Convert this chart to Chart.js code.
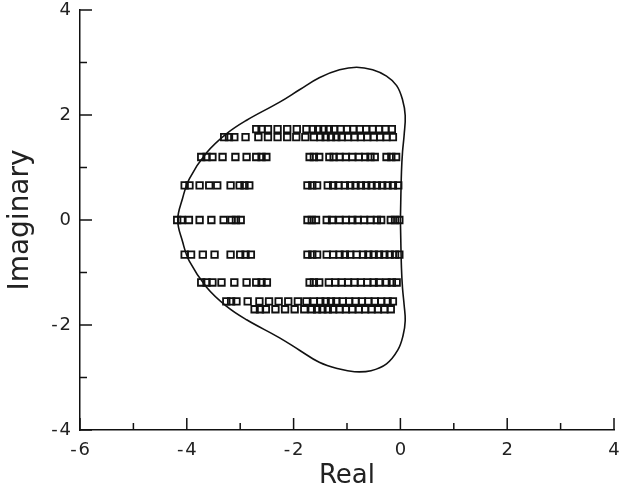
<!DOCTYPE html>
<html><head><meta charset="utf-8">
<script src="https://cdn.jsdelivr.net/npm/chart.js@4/dist/chart.umd.min.js"></script>
<style>html,body{margin:0;padding:0;background:#fff}#wrap{width:621px;height:495px}</style>
</head><body><div id="wrap"><canvas id="c" width="621" height="495"></canvas></div>
<script>
// Axis ticks
const xMajorTicks = [-6, -4, -2, 0, 2, 4];
const xMinorTicks = [-5, -3, -1, 1, 3];
const yMajorTicks = [-4, -2, 0, 2, 4];
const yMinorTicks = [-3, -1, 1, 3];

// Boundary curve (closed)
const curveX = [0.00, 0.02, 0.04, 0.07, 0.09, 0.04, -0.07, -0.26, -0.52, -0.82, -1.14, -1.52, -1.89, -2.27, -2.88, -3.26, -3.63, -3.95, -4.08, -4.17,
                -4.08, -3.95, -3.63, -3.26, -2.88, -2.27, -1.89, -1.52, -1.14, -0.86, -0.55, -0.26, -0.05, 0.05, 0.09, 0.07, 0.04, 0.02, 0.00];
const curveY = [0.00, 0.92, 1.30, 1.62, 1.99, 2.29, 2.56, 2.74, 2.86, 2.91, 2.86, 2.71, 2.48, 2.24, 1.90, 1.64, 1.28, 0.79, 0.41, 0.00,
                -0.41, -0.79, -1.28, -1.64, -1.90, -2.24, -2.48, -2.71, -2.84, -2.89, -2.87, -2.74, -2.48, -2.20, -1.92, -1.62, -1.30, -0.92, 0.00];

// Eigenvalue rows (imaginary part of each row, real parts of its points)
const rowImag = [1.73, 1.58, 1.20, 0.66, 0.00, -0.66, -1.19, -1.55, -1.70];
const rowA = [-2.70,-2.60,-2.48,-2.30,-2.12,-1.94,-1.76,-1.64,-1.54,-1.44,-1.34,-1.24,-1.12,-1.00,-0.88,-0.76,-0.64,-0.52,-0.40,-0.28,-0.16];
const rowB = [-3.30,-3.21,-3.11,-2.90,-2.66,-2.48,-2.30,-2.12,-1.95,-1.78,-1.62,-1.50,-1.40,-1.30,-1.20,-1.10,-0.98,-0.86,-0.74,-0.62,-0.50,-0.38,-0.26,-0.14];
const rowC = [-3.73,-3.63,-3.52,-3.33,-3.09,-2.88,-2.70,-2.60,-2.51,-1.70,-1.62,-1.52,-1.33,-1.25,-1.14,-1.02,-0.90,-0.78,-0.66,-0.56,-0.48,-0.26,-0.17,-0.08];
const rowD = [-4.04,-3.95,-3.76,-3.58,-3.43,-3.18,-3.01,-2.92,-2.83,-1.74,-1.65,-1.56,-1.36,-1.26,-1.16,-1.04,-0.94,-0.84,-0.74,-0.64,-0.54,-0.44,-0.34,-0.24,-0.14,-0.04];
const rowE = [-4.18,-4.10,-3.96,-3.76,-3.54,-3.31,-3.16,-3.08,-2.99,-1.74,-1.66,-1.58,-1.38,-1.28,-1.14,-1.02,-0.90,-0.80,-0.68,-0.56,-0.44,-0.36,-0.18,-0.10,-0.02];
const rowF = [-4.04,-3.92,-3.70,-3.48,-3.18,-3.00,-2.90,-2.80,-1.74,-1.65,-1.56,-1.38,-1.26,-1.14,-1.04,-0.94,-0.82,-0.70,-0.60,-0.50,-0.40,-0.30,-0.20,-0.10,-0.02];
const rowG = [-3.73,-3.63,-3.52,-3.35,-3.11,-2.88,-2.70,-2.60,-2.50,-1.70,-1.62,-1.52,-1.34,-1.22,-1.10,-0.98,-0.86,-0.74,-0.62,-0.50,-0.40,-0.26,-0.16,-0.07];
const rowH = [-3.26,-3.17,-3.07,-2.86,-2.64,-2.46,-2.28,-2.10,-1.92,-1.76,-1.62,-1.50,-1.40,-1.30,-1.20,-1.08,-0.96,-0.84,-0.72,-0.60,-0.48,-0.36,-0.24,-0.14];
const rowI = [-2.73,-2.63,-2.52,-2.34,-2.16,-1.98,-1.80,-1.66,-1.56,-1.46,-1.36,-1.26,-1.14,-1.02,-0.90,-0.78,-0.66,-0.54,-0.42,-0.30,-0.18];
const rowReals = [rowA, rowB, rowC, rowD, rowE, rowF, rowG, rowH, rowI];

const INK = '#111';
const TEXT = '#222';
const pointSets = rowReals.map((xs, i) => ({
  type: 'scatter',
  data: xs.map(v => ({x: v, y: rowImag[i]})),
  pointStyle: 'rect',
  pointRadius: 4.6,
  pointBorderWidth: 1.8,
  pointBackgroundColor: 'rgba(0,0,0,0)',
  pointBorderColor: INK,
  showLine: false
}));

const curveSet = {
  type: 'scatter',
  data: curveX.map((v, i) => ({x: v, y: curveY[i]})),
  showLine: true,
  tension: 0.4,
  borderColor: INK,
  borderWidth: 1.6,
  pointRadius: 0,
  fill: false
};

const inwardTicks = {
  id: 'inwardTicks',
  afterDatasetsDraw(chart) {
    const {ctx, chartArea: {left, bottom}, scales: {x, y}} = chart;
    ctx.save();
    ctx.strokeStyle = INK;
    ctx.lineWidth = 1.5;
    const seg = (x1, y1, x2, y2) => { ctx.beginPath(); ctx.moveTo(x1, y1); ctx.lineTo(x2, y2); ctx.stroke(); };
    xMajorTicks.forEach(v => { const p = x.getPixelForValue(v); seg(p, bottom, p, bottom - 12); });
    xMinorTicks.forEach(v => { const p = x.getPixelForValue(v); seg(p, bottom, p, bottom - 7); });
    yMajorTicks.forEach(v => { const p = y.getPixelForValue(v); seg(left, p, left + 12, p); });
    yMinorTicks.forEach(v => { const p = y.getPixelForValue(v); seg(left, p, left + 7, p); });
    ctx.restore();
  }
};

const fmt = v => (v < 0 ? '-\u200A' + Math.abs(v) : String(v));
const tickFont = { family: 'DejaVu Sans', size: 18, weight: 'normal', lineHeight: 1.0 };
const titleFont = { family: 'DejaVu Sans', size: 26, weight: 'normal' };

new Chart(document.getElementById('c'), {
  type: 'scatter',
  data: { datasets: [curveSet, ...pointSets] },
  options: {
    responsive: false,
    devicePixelRatio: 1,
    animation: false,
    layout: { padding: { top: 10, right: 7, left: 0, bottom: 0 } },
    plugins: { legend: { display: false }, tooltip: { enabled: false } },
    scales: {
      x: {
        type: 'linear', position: 'bottom', min: -6, max: 4,
        afterBuildTicks: s => { s.ticks = xMajorTicks.map(v => ({value: v})); },
        afterFit: s => { s.height = 65; s.paddingLeft = 0; s.paddingRight = 0; },
        grid: { display: false, drawTicks: false },
        border: { display: true, color: INK, width: 1.5 },
        ticks: { color: TEXT, padding: 11, maxRotation: 0, autoSkip: false, callback: fmt, font: tickFont },
        title: { display: true, text: 'Real', color: TEXT, padding: { top: 0, bottom: 3 }, font: titleFont }
      },
      y: {
        type: 'linear', position: 'left', min: -4, max: 4,
        afterBuildTicks: s => { s.ticks = yMajorTicks.map(v => ({value: v})); },
        afterFit: s => { s.width = 80; s.paddingTop = 0; s.paddingBottom = 0; },
        grid: { display: false, drawTicks: false },
        border: { display: true, color: INK, width: 1.5 },
        ticks: { color: TEXT, padding: 9, autoSkip: false, callback: fmt, font: tickFont },
        title: { display: true, text: 'Imaginary', color: TEXT, padding: { top: 4, bottom: 0 },
                 font: { family: 'DejaVu Sans', size: 28, weight: 'normal' } }
      }
    }
  },
  plugins: [inwardTicks]
});
</script>
</body></html>
